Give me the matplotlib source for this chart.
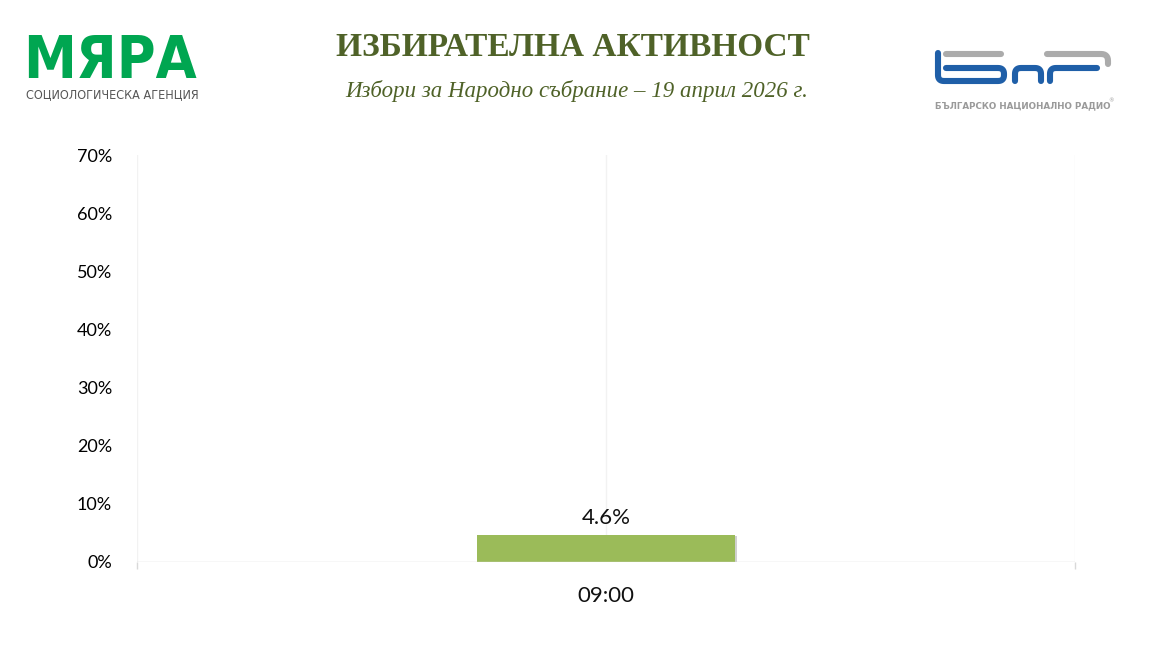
import matplotlib
matplotlib.use('Agg')
import matplotlib.pyplot as plt
import numpy as np
from matplotlib.ticker import PercentFormatter

# data
categories = ['09:00']
turnout = [4.6]
y_ticks = [0, 10, 20, 30, 40, 50, 60, 70]

title = 'ИЗБИРАТЕЛНА АКТИВНОСТ'
subtitle = 'Избори за Народно събрание – 19 април 2026 г.'

fig = plt.figure(figsize=(11.52, 6.48), dpi=100)
ax = fig.add_axes([137 / 1152, 1 - 562 / 648, (1075 - 137) / 1152, (562 - 155) / 648])

x = list(range(len(categories)))
bars = ax.bar(x, turnout, width=0.548, color='#9BBB59', zorder=3)
# slight shadow on the right edge of the bar
ax.bar([i + 0.274 for i in x], [v - 0.15 for v in turnout], width=0.005, color='#d0d0d0', zorder=2, align='edge')
for b, v in zip(bars, turnout):
    ax.text(b.get_x() + b.get_width() / 2, v + 1.3, f'{v:.1f}%', ha='center', va='bottom',
            fontsize=16, family='Lato', color='#111111')

ax.set_xlim(-1, 1)
ax.set_ylim(0, 70)
ax.set_yticks(y_ticks)
ax.yaxis.set_major_formatter(PercentFormatter(decimals=0))
ax.set_xticks([-1, 1])
ax.set_xticklabels(['', ''])
ax.tick_params(axis='x', length=5, color='#d9d9d9', width=1)
ax.tick_params(axis='y', length=0, pad=18, labelsize=13)
for lbl in ax.get_yticklabels():
    lbl.set_family('Lato')
for xv in [-1, 0, 1]:
    ax.axvline(xv, color='#f2f2f2', lw=1, zorder=1)
ax.axhline(0, color='#d9d9d9', lw=1, zorder=4)
for s in ax.spines.values():
    s.set_visible(False)
for i, c in enumerate(categories):
    ax.text(i, -5.9, c, ha='center', va='center', fontsize=16, family='Lato', color='#111111')

# header
fig.text(573 / 1152, 1 - 48 / 648, title, ha='center', va='center', fontsize=24,
         fontweight='bold', family='Liberation Serif', color='#4F6228')
fig.text(577 / 1152, 1 - 91 / 648, subtitle, ha='center', va='center', fontsize=16.5,
         style='italic', family='Liberation Serif', color='#4F6228')

# МЯРА logo
fig.text(23 / 1152, 1 - 61 / 648, 'МЯРА', ha='left', va='center', fontsize=42.5, fontweight='heavy',
         family='DejaVu Sans', fontstretch='condensed', color='#00A651')
fig.text(26 / 1152, 1 - 95 / 648, 'СОЦИОЛОГИЧЕСКА АГЕНЦИЯ', ha='left', va='center', fontsize=9,
         family='DejaVu Sans', fontstretch='condensed', color='#555555')


def rounded(pts, r=6, n=8):
    # polyline with rounded corners (quadratic curve at each inner vertex)
    pts = np.asarray(pts, float)
    out = [pts[0]]
    for i in range(1, len(pts) - 1):
        p0, p1, p2 = pts[i - 1], pts[i], pts[i + 1]
        d1 = (p0 - p1) / np.linalg.norm(p0 - p1)
        d2 = (p2 - p1) / np.linalg.norm(p2 - p1)
        a, c = p1 + d1 * r, p1 + d2 * r
        t = np.linspace(0, 1, n)[:, None]
        out.extend((1 - t) ** 2 * a + 2 * (1 - t) * t * p1 + t ** 2 * c)
    out.append(pts[-1])
    out = np.array(out)
    return out[:, 0], out[:, 1]


# БНР logo, drawn in pixel coordinates of the figure
lax = fig.add_axes([925 / 1152, 1 - 100 / 648, 200 / 1152, 55 / 648])
lax.set_xlim(925, 1125)
lax.set_ylim(100, 45)
lax.axis('off')
blue = '#1F5FA8'
gray = '#ABABAB'
kw = dict(lw=4.4, solid_capstyle='round', solid_joinstyle='round')
lax.plot([946, 1001], [54, 54], color=gray, **kw)
lax.plot(*rounded([(938, 53), (938, 81), (1004, 81), (1004, 68), (946, 68)], r=6), color=blue, **kw)
lax.plot(*rounded([(1015, 81), (1015, 68), (1041, 68), (1041, 81)], r=6), color=blue, **kw)
lax.plot(*rounded([(1050, 81), (1050, 68), (1097, 68)], r=6), color=blue, **kw)
lax.plot(*rounded([(1047, 54), (1108, 54), (1108, 64)], r=7), color=gray, **kw)
fig.text(935 / 1152, 1 - 106 / 648, 'БЪЛГАРСКО НАЦИОНАЛНО РАДИО', ha='left', va='center', fontsize=6.3,
         fontweight='bold', family='DejaVu Sans', color='#9a9a9a')
fig.text(1108 / 1152, 1 - 101 / 648, '®', ha='left', va='center', fontsize=4, color='#9a9a9a')

fig.savefig('out.png', dpi=100)
